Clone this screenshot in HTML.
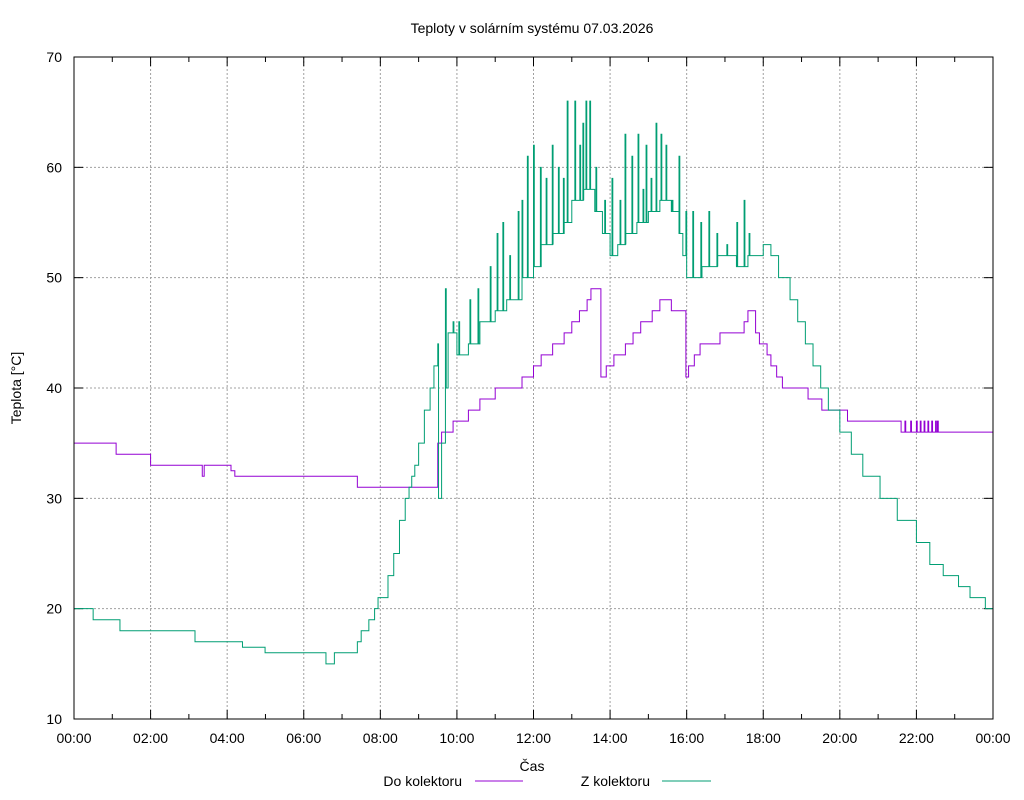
<!DOCTYPE html>
<html><head><meta charset="utf-8"><style>
html,body{margin:0;padding:0;background:#fff}
svg{display:block;font-family:"Liberation Sans",sans-serif}
</style></head><body>
<svg id="chart" width="1024" height="800" viewBox="0 0 1024 800">
<text x="532" y="33" font-size="14" text-anchor="middle">Teploty v solárním systému 07.03.2026</text>
<g id="grid"></g>
<g id="axes"></g>
<g id="series"></g>
<rect x="74" y="57" width="919" height="662" fill="none" stroke="#000" stroke-width="1"/>
<text x="532" y="771" font-size="14" text-anchor="middle">Čas</text>
<text x="21" y="388" font-size="14" text-anchor="middle" transform="rotate(-90 21 388)">Teplota [°C]</text>
<g>
<text x="462" y="786" font-size="14" text-anchor="end">Do kolektoru</text>
<line x1="475" y1="781" x2="523" y2="781" stroke="#9400d3"/>
<text x="650" y="786" font-size="14" text-anchor="end">Z kolektoru</text>
<line x1="662" y1="781" x2="711" y2="781" stroke="#009e73"/>
</g>
</svg>
<script>
const xTickLabels=["00:00","02:00","04:00","06:00","08:00","10:00","12:00","14:00","16:00","18:00","20:00","22:00","00:00"];
const yTicks=[10,20,30,40,50,60,70];
const doTimes=[0,1.1,2.0,3.35,3.4,4.1,4.2,7.4,9.3,9.5,9.6,9.9,10.3,10.6,11.0,11.7,12.0,12.2,12.5,12.8,13.0,13.2,13.4,13.5,13.76,13.9,14.1,14.4,14.6,14.8,15.1,15.3,15.6,15.98,16.05,16.2,16.35,16.87,17.5,17.6,17.8,17.9,18.1,18.2,18.35,18.5,19.17,19.53,20.2,21.6];
const doVals=[35,34,33,32,33,32.5,32,31,31,35,36,37,38,39,40,41,42,43,44,45,46,47,48,49,41,42,43,44,45,46,47,48,47,41,42,43,44,45,46,47,45,44,43,42,41,40,39,38,37,36];
const doSpikeTimes=[21.7,21.85,22.0,22.1,22.2,22.3,22.4,22.5,22.55];
const doSpikeVals=[37,37,37,37,37,37,37,37,37];
const zTimes=[0,0.5,1.2,3.16,4.4,4.99,6.58,6.8,7.4,7.5,7.7,7.85,7.94,8.2,8.35,8.5,8.65,8.75,8.82,8.9,9.0,9.15,9.3,9.4,9.5,9.52,9.6,9.7,9.77,10.0,10.3,10.6,11.0,11.3,11.7,12.0,12.2,12.5,12.8,13.0,13.3,13.6,13.8,14.0,14.2,14.4,14.7,15.0,15.3,15.6,15.8,15.9,16.0,16.4,16.8,17.3,17.6,18.0,18.2,18.4,18.7,18.9,19.1,19.3,19.5,19.7,20.0,20.3,20.6,21.05,21.5,22.0,22.35,22.7,23.1,23.4,23.8];
const zVals=[20,19,18,17,16.5,16,15,16,17,18,19,20,21,23,25,28,30,31,32,33,35,38,40,42,44,30,35,40,45,43,44,46,47,48,50,51,53,54,55,57,58,56,54,52,53,54,55,56,57,56,54,52,50,51,52,51,52,53,52,50,48,46,44,42,40,38,36,34,32,30,28,26,24,23,22,21,20];
const spikeTimes=[9.7,9.9,10.05,10.34,10.55,10.87,11.05,11.2,11.38,11.6,11.7,11.84,12.0,12.18,12.33,12.49,12.65,12.78,12.88,13.08,13.21,13.29,13.37,13.47,13.63,13.86,14.05,14.26,14.39,14.57,14.73,14.86,14.94,15.07,15.2,15.33,15.46,15.62,15.8,15.98,16.16,16.37,16.58,16.79,17.05,17.31,17.5,17.63];
const spikeVals=[49,46,46,48,49,51,54,55,52,56,57,61,62,60,59,62,60,59,66,66,62,64,66,66,60,57,59,57,63,61,63,58,62,59,64,63,62,57,61,56,56,55,56,54,53,55,57,54];
const NS="http://www.w3.org/2000/svg";
const X0=74,X1=993,Y0=719,Y1=57;
function xs(h){return X0+h/24*(X1-X0);}
function ys(v){return Y0-(v-10)/60*(Y0-Y1);}
function mk(tag,attrs,parent){const e=document.createElementNS(NS,tag);for(const k in attrs)e.setAttribute(k,attrs[k]);parent.appendChild(e);return e;}
const grid=document.getElementById('grid'),axes=document.getElementById('axes'),ser=document.getElementById('series');
xTickLabels.forEach((lab,i)=>{const x=xs(i*2);
 if(i>0&&i<12){const g=mk('line',{x1:x,y1:Y1,x2:x,y2:Y0,stroke:'#a0a0a0','stroke-dasharray':'2,2'},grid);
 
 }
 const t=mk('text',{x:x,y:743,'font-size':14,'text-anchor':'middle'},axes);t.textContent=lab;
 
 
});
for(let h=0;h<=24;h++){const x=xs(h),len=h%2?5:9;
 const a=mk('line',{x1:x,y1:Y0,x2:x,y2:Y0-len,stroke:'#000'},axes);
 
 
 const b=mk('line',{x1:x,y1:Y1,x2:x,y2:Y1+len,stroke:'#000'},axes);
 
 }
yTicks.forEach(v=>{const y=ys(v);
 if(v>10&&v<70){const g=mk('line',{x1:X0,y1:y,x2:X1,y2:y,stroke:'#a0a0a0','stroke-dasharray':'2,2'},grid);
 
 }
 const a=mk('line',{x1:X0,y1:y,x2:X0+9,y2:y,stroke:'#000'},axes);
 
 
 const b=mk('line',{x1:X1,y1:y,x2:X1-9,y2:y,stroke:'#000'},axes);
 
 
 const t=mk('text',{x:62,y:y+5,'font-size':14,'text-anchor':'end'},axes);t.textContent=v;
 
 
});
function stepPath(ts,vs){let d='';for(let i=0;i<ts.length;i++){const x=xs(ts[i]),y=ys(vs[i]);
 if(i===0)d+='M'+x+' '+y;else d+='H'+x+'V'+y;}d+='H'+xs(24);return d;}
function lookup(ts,vs,t){let v=vs[0];for(let i=0;i<ts.length;i++){if(ts[i]<=t)v=vs[i];}return v;}
function spikes(ts,vs,st,sv){let d='';st.forEach((t,i)=>{const b=lookup(ts,vs,t),x=xs(t);d+=' M'+x+' '+ys(b)+'V'+ys(sv[i])+'H'+(x+0.8)+'V'+ys(b);});return d;}
const p1=mk('path',{d:stepPath(doTimes,doVals)+spikes(doTimes,doVals,doSpikeTimes,doSpikeVals),fill:'none',stroke:'#9400d3','stroke-width':1},ser);


const p2=mk('path',{d:stepPath(zTimes,zVals)+spikes(zTimes,zVals,spikeTimes,spikeVals),fill:'none',stroke:'#009e73','stroke-width':1},ser);


</script>
</body></html>
